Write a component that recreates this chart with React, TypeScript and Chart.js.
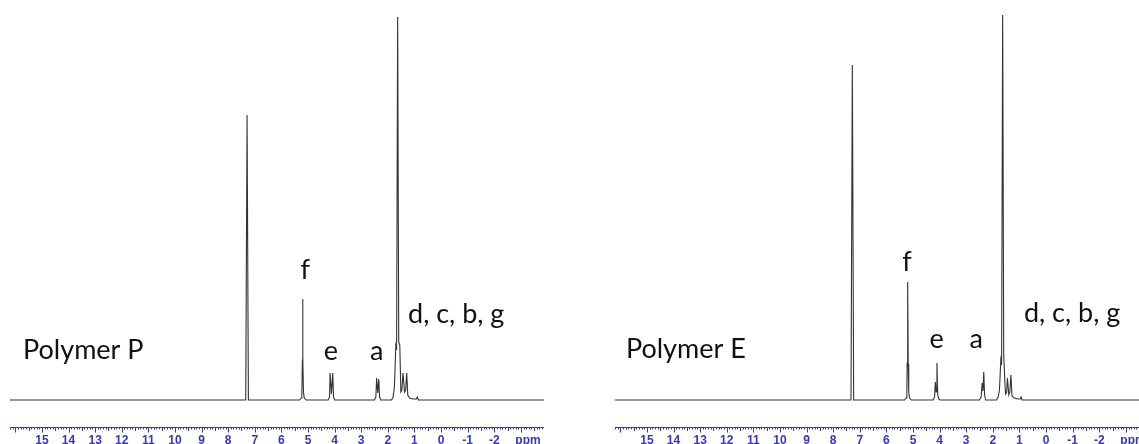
import React, { useEffect, useRef } from "react";
import { Chart, registerables } from "chart.js";

Chart.register(...registerables);

// ---- Axis ----
const X_MAX = 16.2;
const X_MIN = -3.87;
const tickValues = [15, 14, 13, 12, 11, 10, 9, 8, 7, 6, 5, 4, 3, 2, 1, 0, -1, -2];
const unitLabel = "ppm";
const unitPos = -3.27;

// ---- Polymer P spectrum ----
const ppmP = [
  16.2, 7.34, 7.29, 7.24,
  5.32, 5.25, 5.23, 5.21, 5.2, 5.19, 5.17, 5.14, 5.07,
  4.24, 4.19, 4.17, 4.12, 4.07, 4.04, 4.0,
  2.5, 2.45, 2.42, 2.38, 2.34, 2.31, 2.26,
  1.86, 1.8, 1.75, 1.7, 1.67, 1.63, 1.59, 1.55, 1.51, 1.47, 1.43, 1.37, 1.33, 1.29, 1.25, 1.18, 1.05,
  0.93, 0.89, 0.85, -3.9,
];
const intP = [
  0, 0, 285, 0,
  0, 2, 8, 40, 101, 40, 8, 2, 0,
  0, 3, 27, 6, 27, 3, 0,
  0, 3, 22, 7, 21, 3, 0,
  0, 3, 14, 54, 50, 383, 58, 55, 8, 10, 27, 8, 10, 27, 5, 2, 1,
  1, 3, 0, 0,
];

// ---- Polymer E spectrum ----
const ppmE = [
  16.2, 7.33, 7.28, 7.23,
  5.32, 5.26, 5.23, 5.22, 5.2, 5.18, 5.16, 5.13, 5.06,
  4.24, 4.19, 4.16, 4.13, 4.1, 4.07, 4.03, 3.98,
  2.5, 2.44, 2.4, 2.37, 2.34, 2.31, 2.27,
  1.86, 1.8, 1.75, 1.7, 1.67, 1.63, 1.59, 1.55, 1.52, 1.48, 1.45, 1.4, 1.36, 1.32, 1.28, 1.2, 1.05,
  0.97, 0.94, 0.9, -3.9,
];
const intE = [
  0, 0, 335, 0,
  0, 2, 10, 37, 118, 36, 8, 2, 0,
  0, 3, 18, 8, 37, 5, 1, 0,
  0, 3, 17, 9, 28, 5, 0,
  0, 3, 10, 40, 35, 385, 45, 20, 6, 8, 22, 5, 8, 25, 4, 2, 1,
  1, 3, 0, 0,
];

// ---- Annotations (text, ppm, intensity, alignment) ----
const textP = ["Polymer P", "f", "e", "a", "d, c, b, g"];
const textPpmP = [15.71, 5.1, 4.14, 2.42, 1.24];
const textIntP = [41, 121, 40, 40, 77];
const textE = ["Polymer E", "f", "e", "a", "d, c, b, g"];
const textPpmE = [15.79, 5.23, 4.11, 2.62, 0.83];
const textIntE = [42, 129, 52, 52, 78];
const textAlign = ["left", "center", "center", "center", "left"];

const AXIS_BLUE = "#3535c8";

function SpectrumPanel(props: {
  ppm: number[];
  intensity: number[];
  texts: string[];
  textPpm: number[];
  textInt: number[];
  left: number;
}) {
  const ref = useRef<HTMLCanvasElement | null>(null);
  useEffect(() => {
    const canvas = ref.current;
    if (!canvas) return;
    const points = props.ppm.map((p, i) => ({ x: p, y: props.intensity[i] }));

    const axisPlugin = {
      id: "nmrAxis",
      afterDraw(chart: any) {
        const ctx = chart.ctx;
        const xs = chart.scales.x;
        const area = chart.chartArea;
        const y0 = Math.round(area.bottom) + 0.5;
        ctx.save();
        ctx.strokeStyle = AXIS_BLUE;
        ctx.lineWidth = 1;
        ctx.beginPath();
        ctx.moveTo(area.left, y0);
        ctx.lineTo(area.right, y0);
        ctx.stroke();
        const lo = Math.ceil(X_MIN * 10);
        const hi = Math.floor(X_MAX * 10);
        ctx.beginPath();
        for (let i = lo; i <= hi; i++) {
          const v = i / 10;
          const px = Math.round(xs.getPixelForValue(v)) + 0.5;
          const len = i % 10 === 0 ? 5 : i % 5 === 0 ? 3.5 : 2;
          ctx.moveTo(px, y0);
          ctx.lineTo(px, y0 + len);
        }
        ctx.stroke();
        ctx.restore();
      },
    };

    const textPlugin = {
      id: "peakText",
      afterDatasetsDraw(chart: any) {
        const ctx = chart.ctx;
        const xs = chart.scales.x;
        const ys = chart.scales.y;
        ctx.save();
        ctx.fillStyle = "#111111";
        ctx.font = "27px Lato";
        ctx.textBaseline = "alphabetic";
        props.texts.forEach((t, i) => {
          ctx.textAlign = textAlign[i] as CanvasTextAlign;
          ctx.fillText(t, xs.getPixelForValue(props.textPpm[i]), ys.getPixelForValue(props.textInt[i]));
        });
        ctx.restore();
      },
    };

    const chart = new Chart(canvas, {
      type: "line",
      data: {
        datasets: [
          {
            data: points,
            borderColor: "#333333",
            borderWidth: 1.1,
            pointRadius: 0,
            tension: 0,
            fill: false,
          },
        ],
      },
      options: {
        animation: false,
        responsive: false,
        events: [],
        layout: { padding: { left: 10, right: 16, top: 0, bottom: 0 } },
        plugins: { legend: { display: false }, tooltip: { enabled: false } },
        scales: {
          x: {
            type: "linear",
            reverse: true,
            min: X_MIN,
            max: X_MAX,
            grid: { display: false, drawTicks: false },
            border: { display: false },
            afterBuildTicks: (scale: any) => {
              scale.ticks = [...tickValues.map((v) => ({ value: v })), { value: unitPos }];
            },
            afterFit: (scale: any) => {
              scale.height = 17;
            },
            ticks: {
              autoSkip: false,
              maxRotation: 0,
              padding: 6,
              color: AXIS_BLUE,
              font: { family: "'Liberation Sans', Arial", size: 12, weight: "bold" },
              callback: (v: any) => (v === unitPos ? unitLabel : String(v)),
            },
          },
          y: {
            display: false,
            min: -27,
            max: 400,
          },
        },
      },
      plugins: [axisPlugin, textPlugin],
    } as any);
    return () => chart.destroy();
  }, []);
  return (
    <canvas
      ref={ref}
      width={560}
      height={444}
      style={{ position: "absolute", left: props.left, top: 0, width: 560, height: 444, display: "block" }}
    />
  );
}

export default function App() {
  useEffect(() => {
    document.body.style.margin = "0";
    document.body.style.overflow = "hidden";
  }, []);
  return (
    <div style={{ position: "relative", width: 1139, height: 444, overflow: "hidden", background: "#fff" }}>
      <SpectrumPanel ppm={ppmP} intensity={intP} texts={textP} textPpm={textPpmP} textInt={textIntP} left={0} />
      <SpectrumPanel ppm={ppmE} intensity={intE} texts={textE} textPpm={textPpmE} textInt={textIntE} left={605} />
    </div>
  );
}
